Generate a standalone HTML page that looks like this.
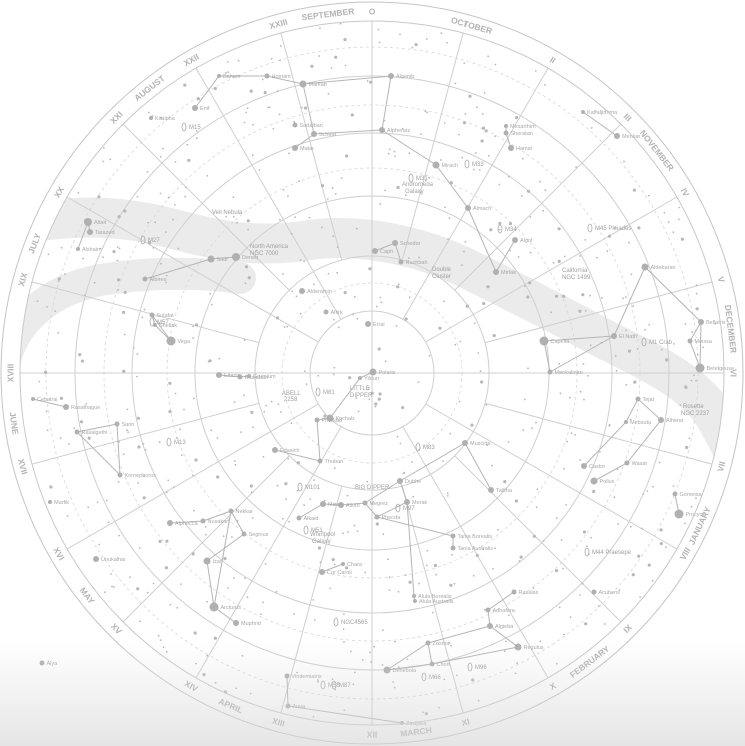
<!DOCTYPE html>
<html><head><meta charset="utf-8"><title>Star chart</title>
<style>
html,body{margin:0;padding:0;background:#fff;}
svg{display:block;font-family:"Liberation Sans",sans-serif;}
</style></head>
<body>
<svg id="chart" width="745" height="746" viewBox="0 0 745 746" xmlns="http://www.w3.org/2000/svg">
<defs>
<linearGradient id="fade" x1="0" y1="0" x2="0" y2="1">
<stop offset="0" stop-color="#d8d8d8" stop-opacity="0"/>
<stop offset="1" stop-color="#d4d4d4" stop-opacity="0.6"/>
</linearGradient>
<clipPath id="disc"><circle cx="372" cy="373" r="352"/></clipPath>
</defs>
<g id="milky" clip-path="url(#disc)"></g>
<g id="grid"></g>
<g id="lines"></g>
<g id="stars"></g>
<g id="labels"></g>
<g id="ring"></g>
<rect x="0" y="640" width="745" height="106" fill="url(#fade)"/>
</svg>
<script>
const NS="http://www.w3.org/2000/svg";
const CX=372, CY=373;
const hourLabels=["O","I","II","III","IV","V","VI","VII","VIII","IX","X","XI","XII","XIII","XIV","XV","XVI","XVII","XVIII","XIX","XX","XXI","XXII","XXIII"];
const monthNames=["SEPTEMBER","OCTOBER","NOVEMBER","DECEMBER","JANUARY","FEBRUARY","MARCH","APRIL","MAY","JUNE","JULY","AUGUST"];
const monthAngles=[-7,16,52,83,115,143,173,203,232,262,291,322];
const decRadii=[62,117,177,240,297];
const dashRadii=[90,205,268,326];
const starNames=["Polaris","Yildun","Kochab","Pherkad","Thuban","Edasich","Eltanin","Rastaban","Grumium","Vega","Sulafat","Sheliak","Deneb","Sadr","Albireo","Altair","Tarazed","Alshain","Enif","Baham","Homam","Markab","Scheat","Matar","Sadalbari","Kitalpha","Alderamin","Alfirk","Errai","Algenib","Alpheratz","Mirach","Almach","Hamal","Sheratan","Mesarthim","Menkar","Kaffaljidhma","Schedar","Caph","Ruchbah","Mirfak","Algol","Capella","Menkalinan","El Nath","Aldebaran","Bellatrix","Betelgeuse","Meissa","Castor","Pollux","Tejat","Alhena","Mebsuta","Wasat","Procyon","Gomeisa","Dubhe","Merak","Phecda","Megrez","Alioth","Mizar","Alkaid","Muscida","Talitha","Tania Borealis","Tania Australis","Alula Borealis","Alula Australis","Regulus","Algieba","Adhafera","Rasalas","Zosma","Chort","Denebola","Acubens","Cor Caroli","Chara","Vindemiatrix","Auva","Zavijava","Arcturus","Izar","Seginus","Nekkar","Nusakan","Alphecca","Muphrid","Unukalhai","Rasalhague","Cebalrai","Rasalgethi","Sarin","Kornephoros","Marfik","Alya"];
const starX=[373,360,330,317,320,275,219,240,249,171,152,155,236,211,145,88,90,78,195,219,267,303,314,295,295,151,302,326,368,391,382,436,468,511,506,506,617,583,395,375,401,496,515,544,550,614,645,701,700,690,584,594,638,661,626,627,679,675,400,407,377,365,341,323,299,465,491,453,453,414,415,518,490,488,514,428,432,387,594,322,343,287,288,402,214,207,244,231,203,170,236,96,66,33,77,117,120,50,42];
const starY=[372,378,418,420,461,450,375,377,376,341,315,325,257,259,279,222,232,249,108,76,76,84,134,148,125,118,291,312,324,76,130,165,208,148,133,126,136,112,243,251,262,272,240,341,372,336,267,322,368,341,466,481,399,420,422,463,514,494,481,502,517,503,505,504,518,443,490,536,548,596,601,647,626,610,592,643,664,670,592,572,564,676,706,723,607,561,534,511,521,523,623,559,407,399,432,424,475,502,663];
const starSize=[3.5,2,3.5,2.5,2.5,3,3,2.5,2,4.5,2.5,2,4,3.5,2.5,4,3,2,3,2,2.5,3.5,3,3,2.5,2,3,2.5,3,3,3,3.5,3,3,2.5,2,3,2,3,3,2.5,3,3,4.5,2.5,3,3.5,3,4.5,2.5,3,3.5,2.5,3,2,2.5,4.5,2.5,3,3,2.5,2.5,3,3,2.5,3,3,2.5,2.5,2,2,3.5,3,2.5,2.5,2.5,2.5,3.5,2.5,3,2,2.5,2.5,2,4.5,3.5,2.5,2.5,2.5,3,3,3,3,2,2.5,2.5,2.5,2,2.5];
const figures=[
["Polaris","Yildun","Kochab","Pherkad"],
["Pherkad","Thuban","Edasich"],
["Eltanin","Rastaban","Grumium"],
["Sulafat","Vega","Sheliak","Sulafat"],
["Albireo","Sadr","Deneb"],
["Alshain","Altair","Tarazed"],
["Enif","Baham","Homam","Markab","Scheat","Matar"],
["Markab","Algenib","Alpheratz","Scheat"],
["Alpheratz","Mirach","Almach"],
["Hamal","Sheratan","Mesarthim"],
["Kaffaljidhma","Menkar"],
["Caph","Schedar","Ruchbah"],
["Almach","Mirfak","Algol"],
["Capella","Menkalinan","El Nath","Capella"],
["El Nath","Aldebaran","Bellatrix","Betelgeuse","Meissa","Bellatrix"],
["Castor","Mebsuta","Tejat","Alhena","Wasat","Pollux"],
["Procyon","Gomeisa"],
["Alkaid","Mizar","Alioth","Megrez","Phecda","Merak","Dubhe","Megrez"],
["Dubhe","Muscida","Talitha"],
["Phecda","Tania Borealis","Tania Australis"],
["Merak","Alula Borealis","Alula Australis"],
["Adhafera","Algieba","Regulus"],
["Rasalas","Adhafera"],
["Algieba","Zosma","Denebola","Chort","Regulus"],
["Zosma","Chort"],
["Cor Caroli","Chara"],
["Vindemiatrix","Auva","Zavijava"],
["Arcturus","Izar","Seginus","Nekkar","Arcturus"],
["Nusakan","Nekkar"],
["Nusakan","Alphecca"],
["Rasalhague","Cebalrai"],
["Rasalgethi","Sarin","Kornephoros","Rasalgethi"],
["Arcturus","Muphrid"]
];
const deepSky=[["M13",169,442],["M15",184,127],["M57",152,322],["M27",143,240],["M31",411,178],["M33",467,164],["M34",500,229],["M45 Pleiades",590,228],["M1 Crab",644,342],["M44 Praesepe",587,552],["M51",306,530],["M101",300,487],["M81",318,392],["M97",398,508],["M83",418,447],["M66",424,677],["M96",470,667],["M58",323,685],["M87",334,685],["NGC4565",336,622]];

function mk(tag,attrs,parent){const e=document.createElementNS(NS,tag);for(const k in attrs)e.setAttribute(k,attrs[k]);parent.appendChild(e);return e;}
function polar(r,deg){const a=deg*Math.PI/180;return [CX+r*Math.sin(a),CY-r*Math.cos(a)];}

const milky=document.getElementById('milky');
const mw1=mk('path',{d:"M-10,232 C60,212 120,215 170,228 C220,242 260,248 310,240 C360,233 420,245 470,270 C520,295 560,315 600,337 C650,362 690,380 712,412 C730,440 740,470 760,500",fill:"none",stroke:"#ebebeb","stroke-width":"40","stroke-linecap":"round","stroke-linejoin":"round"},milky);


const mw2=mk('path',{d:"M5,360 C15,320 50,290 100,280 C150,272 200,272 240,278",fill:"none",stroke:"#ebebeb","stroke-width":"32","stroke-linecap":"round"},milky);



const grid=document.getElementById('grid');
for(const r of decRadii){const c=mk('circle',{cx:CX,cy:CY,r:r,fill:"none",stroke:"#cfcfcf","stroke-width":"1"},grid);

}
for(const r of dashRadii){const c=mk('circle',{cx:CX,cy:CY,r:r,fill:"none",stroke:"#d6d6d6","stroke-width":"0.8","stroke-dasharray":"3 3"},grid);

}
hourLabels.forEach((h,i)=>{
  const ang=i*15; const r0=(i%6===0)?0:(i%2===0?62:117);
  const p0=polar(r0,ang), p1=polar(352,ang);
  const l=mk('line',{x1:p0[0],y1:p0[1],x2:p1[0],y2:p1[1],stroke:"#cfcfcf","stroke-width":"1"},grid);
  
  
});

const ring=document.getElementById('ring');
const oc=mk('circle',{cx:CX,cy:CY,r:371,fill:"none",stroke:"#c4c4c4","stroke-width":"1"},ring);


const ic=mk('circle',{cx:CX,cy:CY,r:352,fill:"none",stroke:"#c8c8c8","stroke-width":"1"},ring);


function ringText(txt,ang,size,name){
  const p=polar(361.5,ang);
  let a=((ang%360)+360)%360; let rot=(a>95&&a<265)?a-180:a;
  const t=mk('text',{x:p[0],y:p[1],"font-size":size,"font-weight":"bold",fill:"#b3b3b3","text-anchor":"middle","dominant-baseline":"central",transform:`rotate(${rot} ${p[0]} ${p[1]})`},ring);
  t.textContent=txt;
  
  
}
hourLabels.forEach((h,i)=>ringText(h,i*15,8.5,'hour-label'));
monthNames.forEach((m,i)=>ringText(m,monthAngles[i],8.5,'month-label'));

const stars=document.getElementById('stars');
let seed=12345;function rnd(){seed=(seed*16807)%2147483647;return seed/2147483647;}
for(let i=0;i<650;i++){
  const r=352*Math.sqrt(rnd()), a=rnd()*360; const p=polar(r,a);
  const s=rnd()<0.8?0.9:1.6;
  const c=mk('circle',{cx:p[0].toFixed(1),cy:p[1].toFixed(1),r:s,fill:"#b8b8b8"},stars);
  
  
}
const linesG=document.getElementById('lines');
const idx={};starNames.forEach((n,i)=>idx[n]=i);
figures.forEach(f=>{
  const pts=f.map(n=>starX[idx[n]]+","+starY[idx[n]]).join(" ");
  const pl=mk('polyline',{points:pts,fill:"none",stroke:"#b5b5b5","stroke-width":"1"},linesG);
  
  
});
const labels=document.getElementById('labels');
starNames.forEach((n,i)=>{
  const c=mk('circle',{cx:starX[i],cy:starY[i],r:starSize[i],fill:"#b0b0b0"},stars);
  
  
  const t=mk('text',{x:starX[i]+starSize[i]+2,y:starY[i]+2,"font-size":"5.5",fill:"#a8a8a8"},labels);
  t.textContent=n;
  
  
});
deepSky.forEach(d=>{
  const e=mk('ellipse',{cx:d[1],cy:d[2],rx:2,ry:4,fill:"none",stroke:"#aaa","stroke-width":"0.8"},stars);
  
  
  const t=mk('text',{x:d[1]+5,y:d[2]+2,"font-size":"6",fill:"#a0a0a0"},labels);
  t.textContent=d[0];
  
  
});
const extra=[["LITTLE",350,390],["DIPPER",350,397],["BIG DIPPER",355,489],["Andromeda",402,186],["Galaxy",405,193],["North America",250,248],["NGC 7000",250,255],["Veil Nebula",212,214],["California",562,272],["NGC 1499",562,279],["Double",432,271],["Cluster",432,278],["Whirlpool",310,536],["Galaxy",312,543],["ABELL",282,395],["2258",284,401],["Rosette",683,408],["NGC 2237",681,415]];
extra.forEach(e=>{const t=mk('text',{x:e[1],y:e[2],"font-size":"6",fill:"#a0a0a0"},labels);
t.textContent=e[0];

});
</script>
</body></html>
